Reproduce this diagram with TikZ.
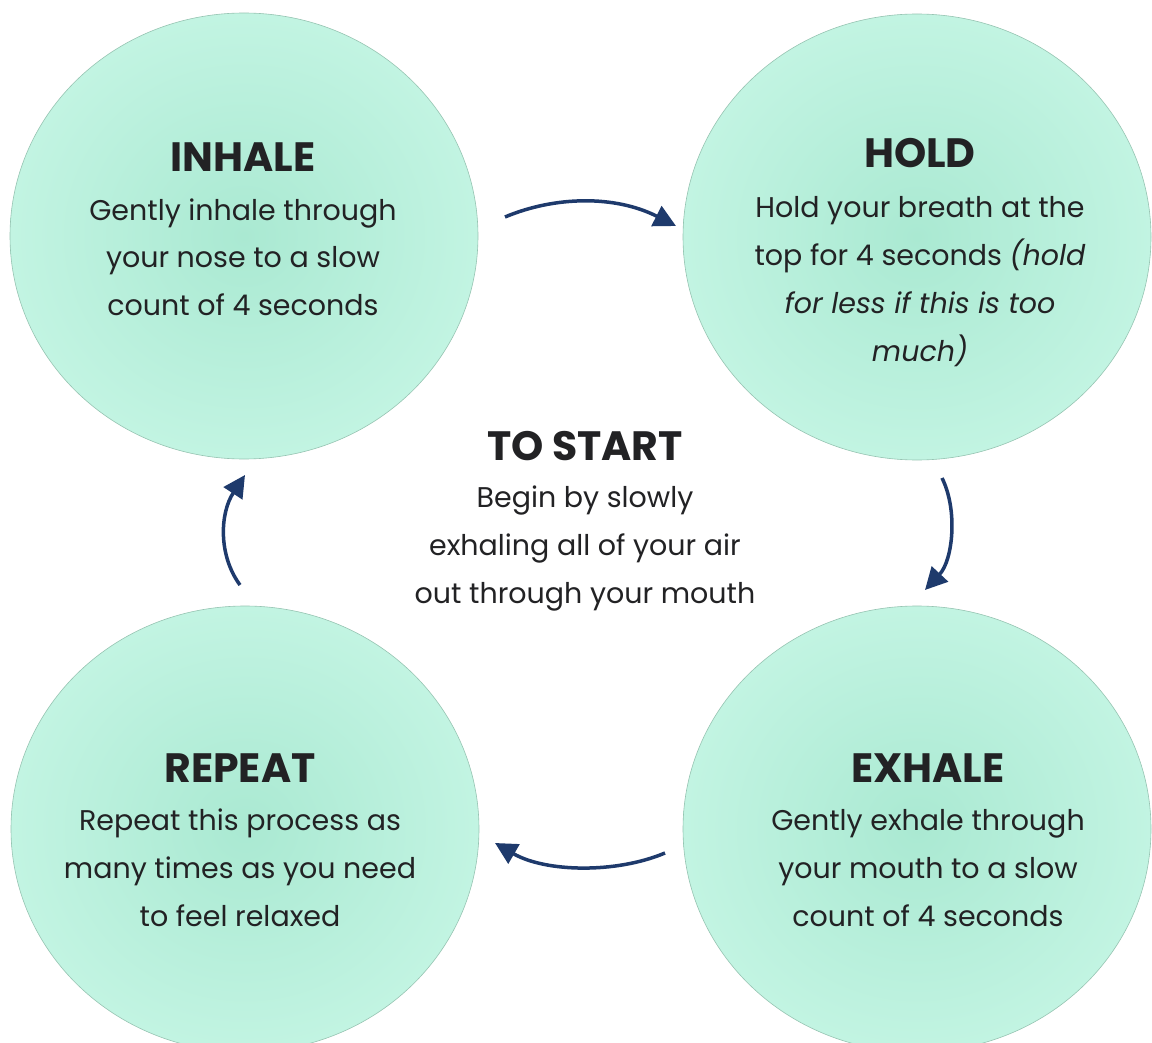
\documentclass[tikz,border=0pt]{standalone}
\usepackage{fontspec}
\setmainfont{Poppins}
\usetikzlibrary{shapes.geometric,arrows.meta}
\definecolor{mintin}{RGB}{170,233,210}
\definecolor{mintout}{RGB}{194,244,226}
\definecolor{mintedge}{RGB}{150,196,178}
\definecolor{navy}{RGB}{30,58,108}
\definecolor{ink}{RGB}{34,34,36}
\begin{document}
\begin{tikzpicture}[x=1pt,y=-1pt,
  bubble/.style={ellipse, minimum width=468pt, minimum height=446pt, inner color=mintin, outer color=mintout, draw=mintedge, line width=0.6pt},
  title/.style={anchor=base, text=ink, font=\fontsize{41}{48}\selectfont\bfseries, inner sep=0pt},
  body/.style={anchor=base, text=ink, align=center, font=\fontsize{28.5}{48}\selectfont, inner sep=0pt},
  flow/.style={navy, line width=3.5pt, -{Triangle[length=22pt,width=22pt]}}]
\useasboundingbox (0,0) rectangle (1152,1043);
\clip (0,0) rectangle (1152,1043);
\fill[white] (0,0) rectangle (1152,1043);

\node[bubble] (inhale) at (244,236) {};
\node[bubble] (hold) at (917,237) {};
\node[bubble] (repeat) at (245,829) {};
\node[bubble] (exhale) at (917,829) {};

% body nodes are anchored at the baseline of their last line
\node[title] (tinhale) at (243,172) {INHALE};
\node[body] (binhale) at (243,316) {Gently inhale through\\your nose to a slow\\count of 4 seconds};

\node[title] (thold) at (920,168) {HOLD};
\node[body] (bhold) at (920,361) {Hold your breath at the\\top for 4 seconds \textit{(hold}\\\textit{for less if this is too}\\\textit{much)}};

\node[title] (tstart) at (585,460) {TO START};
\node[body] (bstart) at (585,603) {Begin by slowly\\exhaling all of your air\\out through your mouth};

\node[title] (trepeat) at (240,782) {REPEAT};
\node[body] (brepeat) at (240,926) {Repeat this process as\\many times as you need\\to feel relaxed};

\node[title] (texhale) at (928,782) {EXHALE};
\node[body] (bexhale) at (928,926) {Gently exhale through\\your mouth to a slow\\count of 4 seconds};

\coordinate (a1s) at (505,217);
\coordinate (a1e) at (676,226);
\coordinate (a2s) at (942,478);
\coordinate (a2e) at (925,590);
\coordinate (a3s) at (665,853);
\coordinate (a3e) at (495,843);
\coordinate (a4s) at (240,585);
\coordinate (a4e) at (245,475);

\draw[flow] (a1s) .. controls (555,196) and (615,195) .. (a1e);
\draw[flow] (a2s) .. controls (958,510) and (953,560) .. (a2e);
\draw[flow] (a3s) .. controls (615,874) and (545,872) .. (a3e);
\draw[flow] (a4s) .. controls (218,555) and (220,513) .. (a4e);
\end{tikzpicture}
\end{document}
